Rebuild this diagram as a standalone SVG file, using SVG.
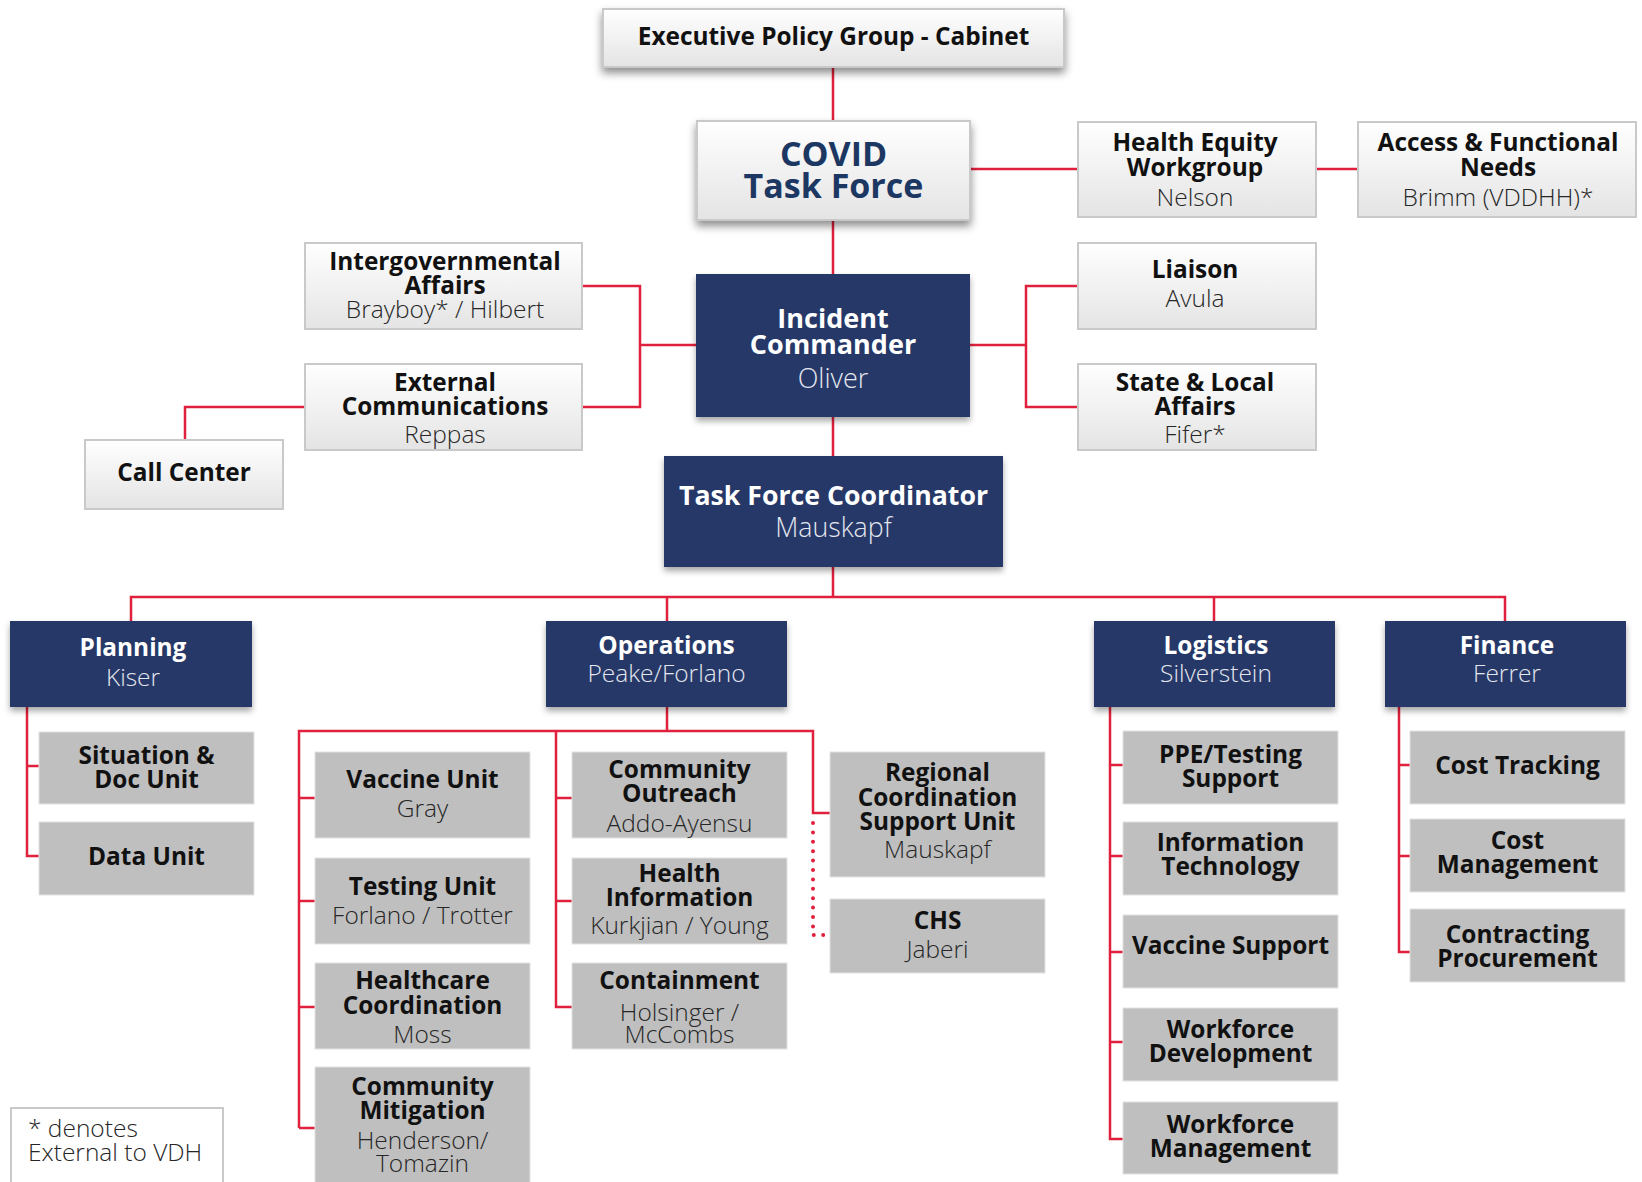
<svg xmlns="http://www.w3.org/2000/svg" width="1642" height="1182" viewBox="0 0 1642 1182">
<defs>
<linearGradient id="wg" x1="0" y1="0" x2="0" y2="1">
<stop offset="0" stop-color="#ffffff"/>
<stop offset="1" stop-color="#e4e4e4"/>
</linearGradient>
<filter id="sh" x="-10%" y="-20%" width="120%" height="150%">
<feDropShadow dx="0" dy="5" stdDeviation="4" flood-color="#000" flood-opacity="0.45"/>
</filter>
<filter id="shs" x="-10%" y="-20%" width="120%" height="150%">
<feDropShadow dx="0" dy="4" stdDeviation="3" flood-color="#000" flood-opacity="0.35"/>
</filter>
</defs>
<style>
text{font-family:"Open Sans","Noto Sans","DejaVu Sans",sans-serif;text-anchor:middle}
.wb{fill:url(#wg);stroke:#c9c9c9;stroke-width:2}
.nb{fill:#253768}
.gb{fill:#bfbfbf;stroke:#e2e2e2;stroke-width:1}
.b{font-weight:700;font-size:24.4px;fill:#111}
.l{font-weight:300;font-size:24.5px;fill:#262626}
.nbt{font-weight:700;font-size:24.4px;fill:#fff}
.nl{font-weight:300;font-size:24.5px;fill:#e4e7ef}
.ln{fill:none;stroke:#e0203c;stroke-width:2.5}
.dot{fill:none;stroke:#e0203c;stroke-width:4;stroke-linecap:round;stroke-dasharray:0 9.4}
</style>
<rect width="1642" height="1182" fill="#ffffff"/>
<g id="connectors">
<path class="ln" d="M833,67 V121 M833,220 V274 M833,417 V456 M833,567 V597"/>
<path class="ln" d="M970,169 H1078 M1316,169 H1358"/>
<path class="ln" d="M582,286 H640 V407 H582 M640,345 H696"/>
<path class="ln" d="M1079,286 H1026 V407 H1079 M970,345 H1026"/>
<path class="ln" d="M305,407 H185 V440"/>
<path class="ln" d="M131,621 V597 H1505 V621 M667,597 V621 M1214,597 V621"/>
<path class="ln" d="M27,707 V856 H39 M27,766 H39"/>
<path class="ln" d="M667,707 V731 M299,1128 V731 H813 V813 H830 M299,798 H315 M299,901 H315 M299,1007 H315 M299,1128 H315"/>
<path class="ln" d="M556,731 V1007 H572 M556,798 H572 M556,901 H572"/>
<path class="dot" d="M813,823 V935 H827"/>
<path class="ln" d="M1110,707 V1139 H1123 M1110,765 H1123 M1110,856 H1123 M1110,952 H1123 M1110,1042 H1123"/>
<path class="ln" d="M1399,707 V952 H1410 M1399,765 H1410 M1399,856 H1410"/>
</g>
<g id="exec"><rect class="wb" x="603" y="9" width="461" height="58" filter="url(#sh)"/><text class="b" x="833.5" y="45">Executive Policy Group - Cabinet</text></g>
<g id="covid"><rect class="wb" x="697" y="121" width="273" height="99" filter="url(#sh)"/><text x="833.5" y="166" style="font-weight:700;font-size:34px;fill:#1d3763">COVID</text><text x="833.5" y="198" style="font-weight:700;font-size:34px;fill:#1d3763">Task Force</text></g>
<g id="health-equity"><rect class="wb" x="1078" y="122" width="238" height="95"/><text class="b" x="1195" y="151">Health Equity</text><text class="b" x="1195" y="176">Workgroup</text><text class="l" x="1195" y="206">Nelson</text></g>
<g id="access"><rect class="wb" x="1358" y="122" width="278" height="95"/><text class="b" x="1498" y="151">Access &amp; Functional</text><text class="b" x="1498" y="176">Needs</text><text class="l" x="1498" y="206">Brimm (VDDHH)*</text></g>
<g id="intergov"><rect class="wb" x="305" y="243" width="277" height="86"/><text class="b" x="445" y="270">Intergovernmental</text><text class="b" x="445" y="294">Affairs</text><text class="l" x="445" y="318">Brayboy* / Hilbert</text></g>
<g id="ext-comm"><rect class="wb" x="305" y="364" width="277" height="86"/><text class="b" x="445" y="391">External</text><text class="b" x="445" y="415">Communications</text><text class="l" x="445" y="443">Reppas</text></g>
<g id="call-center"><rect class="wb" x="85" y="440" width="198" height="69"/><text class="b" x="184" y="481">Call Center</text></g>
<g id="incident-commander"><rect class="nb" x="696" y="274" width="274" height="143" filter="url(#shs)"/><text class="nbt" x="833" y="328" style="font-size:27px">Incident</text><text class="nbt" x="833" y="354" style="font-size:27px">Commander</text><text class="nl" x="833" y="388" style="font-size:27px">Oliver</text></g>
<g id="liaison"><rect class="wb" x="1078" y="243" width="238" height="86"/><text class="b" x="1195" y="278">Liaison</text><text class="l" x="1195" y="307">Avula</text></g>
<g id="state-local"><rect class="wb" x="1078" y="364" width="238" height="86"/><text class="b" x="1195" y="391">State &amp; Local</text><text class="b" x="1195" y="415">Affairs</text><text class="l" x="1195" y="443">Fifer*</text></g>
<g id="tf-coordinator"><rect class="nb" x="664" y="456" width="339" height="111" filter="url(#shs)"/><text class="nbt" x="833.5" y="505" style="font-size:26.7px">Task Force Coordinator</text><text class="nl" x="833.5" y="537" style="font-size:26.7px">Mauskapf</text></g>
<g id="planning"><rect class="nb" x="10" y="621" width="242" height="86" filter="url(#shs)"/><text class="nbt" x="133" y="656">Planning</text><text class="nl" x="133" y="686">Kiser</text></g>
<g id="situation"><rect class="gb" x="39" y="732" width="215" height="72"/><text class="b" x="146.5" y="764">Situation &amp;</text><text class="b" x="146.5" y="788">Doc Unit</text></g>
<g id="data-unit"><rect class="gb" x="39" y="822" width="215" height="73"/><text class="b" x="146.5" y="865">Data Unit</text></g>
<g id="operations"><rect class="nb" x="546" y="621" width="241" height="86" filter="url(#shs)"/><text class="nbt" x="666.5" y="654">Operations</text><text class="nl" x="666.5" y="682">Peake/Forlano</text></g>
<g id="vaccine-unit"><rect class="gb" x="315" y="752" width="215" height="86"/><text class="b" x="422.5" y="788">Vaccine Unit</text><text class="l" x="422.5" y="817">Gray</text></g>
<g id="testing-unit"><rect class="gb" x="315" y="858" width="215" height="86"/><text class="b" x="422.5" y="895">Testing Unit</text><text class="l" x="422.5" y="924">Forlano / Trotter</text></g>
<g id="healthcare-coord"><rect class="gb" x="315" y="963" width="215" height="86"/><text class="b" x="422.5" y="989">Healthcare</text><text class="b" x="422.5" y="1014">Coordination</text><text class="l" x="422.5" y="1043">Moss</text></g>
<g id="community-mitigation"><rect class="gb" x="315" y="1067" width="215" height="120"/><text class="b" x="422.5" y="1095">Community</text><text class="b" x="422.5" y="1119">Mitigation</text><text class="l" x="422.5" y="1149">Henderson/</text><text class="l" x="422.5" y="1172">Tomazin</text></g>
<g id="community-outreach"><rect class="gb" x="572" y="752" width="215" height="86"/><text class="b" x="679.5" y="778">Community</text><text class="b" x="679.5" y="802">Outreach</text><text class="l" x="679.5" y="832">Addo-Ayensu</text></g>
<g id="health-information"><rect class="gb" x="572" y="858" width="215" height="86"/><text class="b" x="679.5" y="882">Health</text><text class="b" x="679.5" y="906">Information</text><text class="l" x="679.5" y="934">Kurkjian / Young</text></g>
<g id="containment"><rect class="gb" x="572" y="963" width="215" height="86"/><text class="b" x="679.5" y="989">Containment</text><text class="l" x="679.5" y="1021">Holsinger /</text><text class="l" x="679.5" y="1043">McCombs</text></g>
<g id="regional"><rect class="gb" x="830" y="752" width="215" height="125"/><text class="b" x="937.5" y="781">Regional</text><text class="b" x="937.5" y="806">Coordination</text><text class="b" x="937.5" y="830">Support Unit</text><text class="l" x="937.5" y="858">Mauskapf</text></g>
<g id="chs"><rect class="gb" x="830" y="899" width="215" height="74"/><text class="b" x="937.5" y="929">CHS</text><text class="l" x="937.5" y="958">Jaberi</text></g>
<g id="logistics"><rect class="nb" x="1094" y="621" width="241" height="86" filter="url(#shs)"/><text class="nbt" x="1216" y="654">Logistics</text><text class="nl" x="1216" y="682">Silverstein</text></g>
<g id="ppe"><rect class="gb" x="1123" y="731" width="215" height="73"/><text class="b" x="1230.5" y="763">PPE/Testing</text><text class="b" x="1230.5" y="787">Support</text></g>
<g id="info-tech"><rect class="gb" x="1123" y="822" width="215" height="73"/><text class="b" x="1230.5" y="851">Information</text><text class="b" x="1230.5" y="875">Technology</text></g>
<g id="vaccine-support"><rect class="gb" x="1123" y="915" width="215" height="73"/><text class="b" x="1230.5" y="954">Vaccine Support</text></g>
<g id="workforce-dev"><rect class="gb" x="1123" y="1008" width="215" height="73"/><text class="b" x="1230.5" y="1038">Workforce</text><text class="b" x="1230.5" y="1062">Development</text></g>
<g id="workforce-mgmt"><rect class="gb" x="1123" y="1102" width="215" height="72"/><text class="b" x="1230.5" y="1133">Workforce</text><text class="b" x="1230.5" y="1157">Management</text></g>
<g id="finance"><rect class="nb" x="1385" y="621" width="241" height="86" filter="url(#shs)"/><text class="nbt" x="1507" y="654">Finance</text><text class="nl" x="1507" y="682">Ferrer</text></g>
<g id="cost-tracking"><rect class="gb" x="1410" y="731" width="215" height="73"/><text class="b" x="1517.5" y="774">Cost Tracking</text></g>
<g id="cost-mgmt"><rect class="gb" x="1410" y="819" width="215" height="73"/><text class="b" x="1517.5" y="849">Cost</text><text class="b" x="1517.5" y="873">Management</text></g>
<g id="contracting"><rect class="gb" x="1410" y="909" width="215" height="73"/><text class="b" x="1517.5" y="943">Contracting</text><text class="b" x="1517.5" y="967">Procurement</text></g>
<g id="legend"><rect x="11" y="1108" width="212" height="80" fill="#fff" stroke="#c9c9c9" stroke-width="2"/><text class="l" x="28" y="1137" style="text-anchor:start">* denotes</text><text class="l" x="28" y="1161" style="text-anchor:start">External to VDH</text></g>
</svg>
